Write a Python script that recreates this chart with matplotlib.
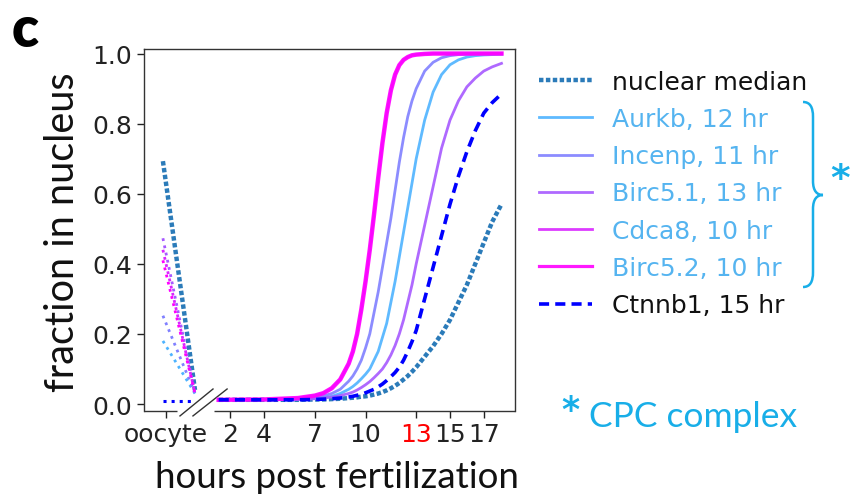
import matplotlib
matplotlib.use("Agg")
import matplotlib.pyplot as plt
from matplotlib.path import Path
from matplotlib.patches import PathPatch

# ---------------- data ----------------
hours = [1.3, 4, 6, 7, 7.5, 8, 8.5, 9, 9.25, 9.5, 9.75, 10, 10.25, 10.5, 10.75, 11,
         11.25, 11.5, 11.75, 12, 12.25, 12.5, 12.75, 13, 13.5, 14, 14.5, 15, 15.5,
         16, 16.5, 17, 17.5, 18.05]

median_vals = [0.012, 0.012, 0.012, 0.013, 0.013, 0.014, 0.015, 0.017, 0.018, 0.019,
               0.021, 0.022, 0.024, 0.027, 0.030, 0.034, 0.039, 0.045, 0.052, 0.060,
               0.070, 0.080, 0.092, 0.105, 0.135, 0.165, 0.200, 0.240, 0.290, 0.340,
               0.400, 0.460, 0.520, 0.570]
aurkb_vals = [0.012, 0.012, 0.014, 0.016, 0.018, 0.022, 0.030, 0.042, 0.050, 0.060,
              0.072, 0.085, 0.100, 0.125, 0.150, 0.190, 0.230, 0.290, 0.350, 0.420,
              0.490, 0.560, 0.630, 0.700, 0.810, 0.890, 0.940, 0.968, 0.982, 0.990,
              0.994, 0.996, 0.997, 0.998]
incenp_vals = [0.012, 0.013, 0.015, 0.019, 0.023, 0.030, 0.042, 0.065, 0.080, 0.100,
               0.125, 0.160, 0.200, 0.260, 0.320, 0.390, 0.460, 0.530, 0.610, 0.690,
               0.760, 0.820, 0.865, 0.900, 0.950, 0.975, 0.988, 0.994, 0.997, 0.998,
               0.999, 0.999, 1.000, 1.000]
birc51_vals = [0.012, 0.012, 0.013, 0.015, 0.017, 0.020, 0.024, 0.030, 0.034, 0.040,
               0.047, 0.055, 0.064, 0.075, 0.087, 0.100, 0.118, 0.140, 0.167, 0.200,
               0.240, 0.290, 0.340, 0.400, 0.510, 0.620, 0.730, 0.810, 0.865, 0.905,
               0.930, 0.950, 0.962, 0.972]
cdca8_vals = [0.012, 0.013, 0.017, 0.024, 0.031, 0.045, 0.070, 0.115, 0.150, 0.200,
              0.270, 0.350, 0.440, 0.540, 0.645, 0.745, 0.830, 0.895, 0.940, 0.967,
              0.982, 0.990, 0.995, 0.997, 0.999, 1.000, 1.000, 1.000, 1.000, 1.000,
              1.000, 1.000, 1.000, 1.000]
birc52_vals = [0.012, 0.013, 0.017, 0.024, 0.031, 0.045, 0.070, 0.115, 0.150, 0.200,
               0.270, 0.350, 0.440, 0.540, 0.645, 0.745, 0.830, 0.895, 0.940, 0.967,
               0.982, 0.990, 0.995, 0.997, 0.999, 1.000, 1.000, 1.000, 1.000, 1.000,
               1.000, 1.000, 1.000, 1.000]
ctnnb1_vals = [0.012, 0.012, 0.012, 0.013, 0.014, 0.015, 0.017, 0.020, 0.022, 0.025,
               0.028, 0.032, 0.037, 0.042, 0.049, 0.057, 0.067, 0.078, 0.090, 0.105,
               0.125, 0.150, 0.178, 0.210, 0.300, 0.390, 0.480, 0.570, 0.650, 0.720,
               0.780, 0.830, 0.860, 0.885]

# oocyte segment: value at oocyte and at the axis break
oocyte_x = [-2.0, -0.1]
oocyte_start = {"median": 0.693, "Aurkb": 0.18, "Incenp": 0.252, "Birc5.1": 0.473,
                "Cdca8": 0.44, "Birc5.2": 0.41, "Ctnnb1": 0.01}
oocyte_end = {"median": 0.04, "Aurkb": 0.03, "Incenp": 0.03, "Birc5.1": 0.03,
              "Cdca8": 0.03, "Birc5.2": 0.03, "Ctnnb1": 0.01}

tick_pos = [-1.83, 2, 4, 7, 10, 13, 15, 17]
tick_labels = ["oocyte", "2", "4", "7", "10", "13", "15", "17"]
ytick_vals = [0.0, 0.2, 0.4, 0.6, 0.8, 1.0]

# ---------------- style ----------------
W, H = 851, 502
fig = plt.figure(figsize=(W / 100, H / 100), dpi=100)
ax = fig.add_axes([144 / W, 1 - 411.5 / H, 371 / W, 361.5 / H])

c_median = "#2b7bb9"
c_aurkb = "#4db3ff"
c_incenp = "#8080ff"
c_birc51 = "#a659ff"
c_cdca8 = "#d926ff"
c_birc52 = "#ff00ff"
c_ctnnb1 = "#0000ff"
c_cpc_text = "#55b4f0"
c_cpc = "#18aee8"

series = [
    ("median", "nuclear median", median_vals, c_median),
    ("Aurkb", "Aurkb, 12 hr", aurkb_vals, c_aurkb),
    ("Incenp", "Incenp, 11 hr", incenp_vals, c_incenp),
    ("Birc5.1", "Birc5.1, 13 hr", birc51_vals, c_birc51),
    ("Cdca8", "Cdca8, 10 hr", cdca8_vals, c_cdca8),
    ("Birc5.2", "Birc5.2, 10 hr", birc52_vals, c_birc52),
    ("Ctnnb1", "Ctnnb1, 15 hr", ctnnb1_vals, c_ctnnb1),
]

handles = []
for key, label, vals, col in series:
    if key == "median":
        ln, = ax.plot(hours, vals, color=col, lw=3.2, dashes=(1.0, 0.55), zorder=2)
        ax.plot(oocyte_x, [oocyte_start[key], oocyte_end[key]], color=col, lw=3.2,
                dashes=(1.0, 0.55), zorder=2)
    elif key == "Ctnnb1":
        ln, = ax.plot(hours, vals, color=col, lw=2.6, dashes=(2.8, 1.7), zorder=4)
        ax.plot(oocyte_x, [oocyte_start[key], oocyte_end[key]], color=col, lw=2.2,
                ls=":", zorder=4)
    else:
        lw = 3.2 if key == "Birc5.2" else 2.0
        ln, = ax.plot(hours, vals, color=col, lw=lw, zorder=3, alpha=0.9)
        ax.plot(oocyte_x, [oocyte_start[key], oocyte_end[key]], color=col, lw=2.0,
                ls=":", zorder=3)
    ln.set_label(label)
    handles.append(ln)

ax.set_xlim(-3.12, 18.85)
ax.set_ylim(-0.0185, 1.013)
ax.set_xticks(tick_pos)
ax.set_xticklabels(tick_labels)
ax.set_yticks(ytick_vals)
ax.set_yticklabels([f"{v:.1f}" for v in ytick_vals])
ax.tick_params(labelsize=18, colors="#222222", length=5, width=1)
for lab in ax.get_xticklabels():
    if lab.get_text() == "13":
        lab.set_color("red")

for s in ["left", "top", "right"]:
    ax.spines[s].set_color("#333333")
    ax.spines[s].set_linewidth(1.0)
ax.spines["bottom"].set_visible(False)
ax.plot([0, 0.089], [0, 0], transform=ax.transAxes, color="#333333", lw=1.0,
        clip_on=False, solid_capstyle="butt")
ax.plot([0.19, 1], [0, 0], transform=ax.transAxes, color="#333333", lw=1.0,
        clip_on=False, solid_capstyle="butt")
ax.plot([0.097, 0.186], [-0.015, 0.0595], transform=ax.transAxes, color="#333333",
        lw=1.0, clip_on=False)
ax.plot([0.132, 0.224], [-0.015, 0.0595], transform=ax.transAxes, color="#333333",
        lw=1.0, clip_on=False)

# axis labels
fig.text(62 / W, 1 - 232 / H, "fraction in nucleus", rotation=90, ha="center",
         va="center", fontsize=28.5, family="Lato", color="#111111")
fig.text(337 / W, 1 - 488 / H, "hours post fertilization", ha="center",
         va="baseline", fontsize=26.5, family="Lato", color="#111111")

# panel letter
fig.text(12 / W, 1 - 47 / H, "c", ha="left", va="baseline", fontsize=40,
         family="Lato", weight="heavy", color="black")

# legend
leg = fig.legend(handles=handles, loc="center left",
                 bbox_to_anchor=(539 / W, 1 - 194.5 / H), frameon=False,
                 fontsize=18, handlelength=2.1, handletextpad=0.84,
                 labelspacing=0.53, borderaxespad=0, borderpad=0)
for i, t in enumerate(leg.get_texts()):
    if 1 <= i <= 5:
        t.set_color(c_cpc_text)
    else:
        t.set_color("#111111")
leg.legend_handles[5].set_linewidth(2.3)

# brace
pts = [(803, 103), (810, 103), (813, 108), (813, 118),
       (813, 182),
       (813, 192), (817, 196), (823, 196),
       (817, 196), (813, 200), (813, 210),
       (813, 273),
       (813, 283), (810, 288), (803, 288)]
codes = [Path.MOVETO, Path.CURVE4, Path.CURVE4, Path.CURVE4,
         Path.LINETO,
         Path.CURVE4, Path.CURVE4, Path.CURVE4,
         Path.CURVE4, Path.CURVE4, Path.CURVE4,
         Path.LINETO,
         Path.CURVE4, Path.CURVE4, Path.CURVE4]
fpts = [(x / W, 1 - y / H) for x, y in pts]
brace = PathPatch(Path(fpts, codes), transform=fig.transFigure, fill=False,
                  edgecolor=c_cpc, lw=1.8)
fig.patches.append(brace)
fig.text(840.5 / W, 1 - 180 / H, "*", ha="center", va="center", fontsize=27,
         family="DejaVu Sans", weight="bold", color=c_cpc)

fig.text(570 / W, 1 - 411 / H, "*", ha="center", va="center", fontsize=25,
         family="DejaVu Sans", weight="bold", color=c_cpc)
fig.text(589 / W, 1 - 427 / H, "CPC complex", ha="left", va="baseline",
         fontsize=25.5, family="Lato", color=c_cpc)

fig.savefig("out.png", dpi=100)
